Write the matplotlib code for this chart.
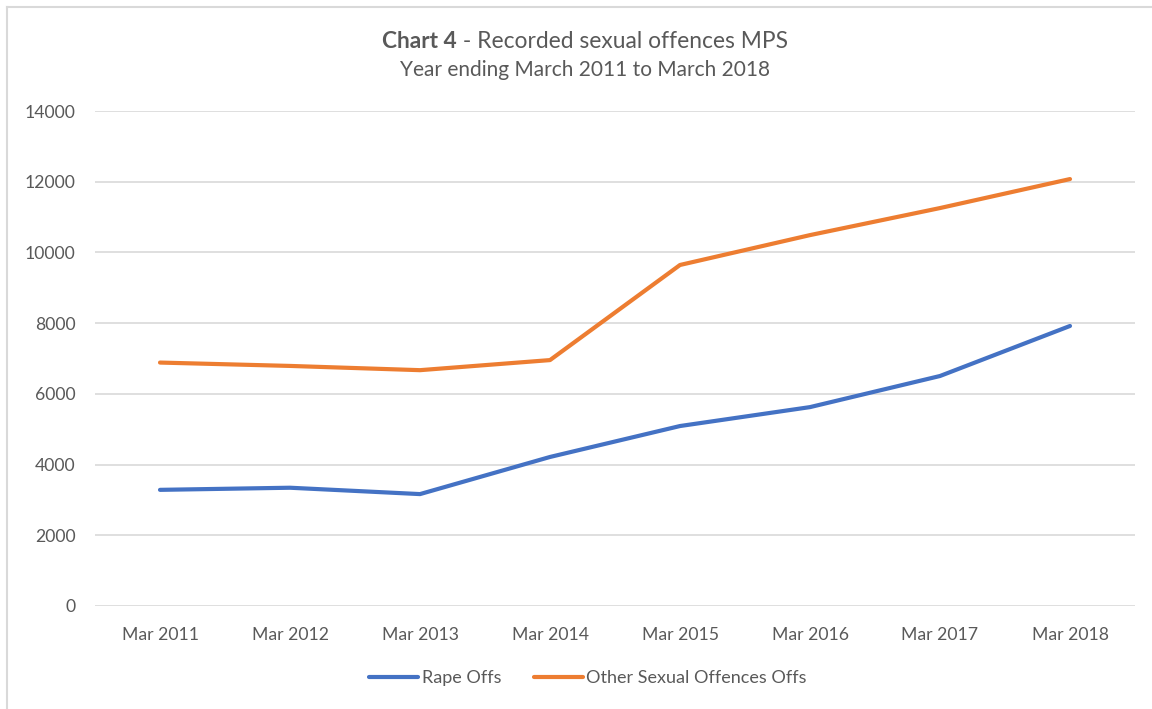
import matplotlib
matplotlib.use("Agg")
import matplotlib.pyplot as plt
from matplotlib.lines import Line2D

plt.rcParams['font.family'] = ['Lato', 'DejaVu Sans']

categories = ["Mar 2011", "Mar 2012", "Mar 2013", "Mar 2014",
              "Mar 2015", "Mar 2016", "Mar 2017", "Mar 2018"]
rape_offs = [3285, 3345, 3165, 4215, 5090, 5625, 6505, 7920]
other_offs = [6885, 6790, 6670, 6955, 9645, 10490, 11255, 12075]
series_names = ["Rape Offs", "Other Sexual Offences Offs"]
series_colors = ["#4472C4", "#ED7D31"]
y_ticks = [0, 2000, 4000, 6000, 8000, 10000, 12000, 14000]

fig = plt.figure(figsize=(11.52, 7.09), dpi=100)
ax = fig.add_axes([95/1152, 1 - 606/709, (1135 - 95)/1152, (606 - 111)/709])

xs = list(range(len(categories)))
for vals, col, name in zip([rape_offs, other_offs], series_colors, series_names):
    ax.plot(xs, vals, color=col, linewidth=3.0, solid_capstyle='round',
            solid_joinstyle='round', zorder=3, label=name)

ax.set_xlim(-0.5, len(categories) - 0.5)
ax.set_ylim(0, 14000)
ax.set_yticks(y_ticks)
ax.set_yticklabels([str(v) for v in y_ticks])
ax.set_xticks(xs)
ax.set_xticklabels(categories)
ax.grid(axis='y', color='#d9d9d9', linewidth=1.2)
ax.set_axisbelow(True)
for s in ax.spines.values():
    s.set_visible(False)
ax.tick_params(axis='both', length=0, colors='#595959')
ax.tick_params(axis='y', pad=14, labelsize=12.7)
ax.tick_params(axis='x', pad=15, labelsize=12.7)

# Title with bold prefix
t1 = fig.text(0, 0, "Chart 4", fontsize=16.4, fontweight='bold', color='#595959', va='center')
t2 = fig.text(0, 0, " - Recorded sexual offences MPS", fontsize=16.4, color='#595959', va='center')
fig.canvas.draw()
r = fig.canvas.get_renderer()
w1 = t1.get_window_extent(r).width
w2 = t2.get_window_extent(r).width
cx = 585
yy = 709 - 41
x0 = cx - (w1 + w2) / 2
t1.set_position((x0 / 1152, yy / 709))
t2.set_position(((x0 + w1) / 1152, yy / 709))
fig.text(585/1152, 1 - 70/709, "Year ending March 2011 to March 2018",
         ha='center', va='center', fontsize=15, color='#595959')

handles = [Line2D([], [], color=c, linewidth=3.0, solid_capstyle='round') for c in series_colors]
fig.legend(handles, series_names, loc='center', bbox_to_anchor=(588/1152, 1 - 678/709),
           ncol=2, frameon=False, fontsize=13, labelcolor='#595959',
           handlelength=2.7, columnspacing=1.8, handletextpad=0.2)

fig.add_artist(Line2D([7/1152, 1], [1 - 7/709, 1 - 7/709], color='#d9d9d9', linewidth=1.5))
fig.add_artist(Line2D([7/1152, 7/1152], [0, 1 - 7/709], color='#d9d9d9', linewidth=1.5))

fig.savefig("out.png", dpi=100)
